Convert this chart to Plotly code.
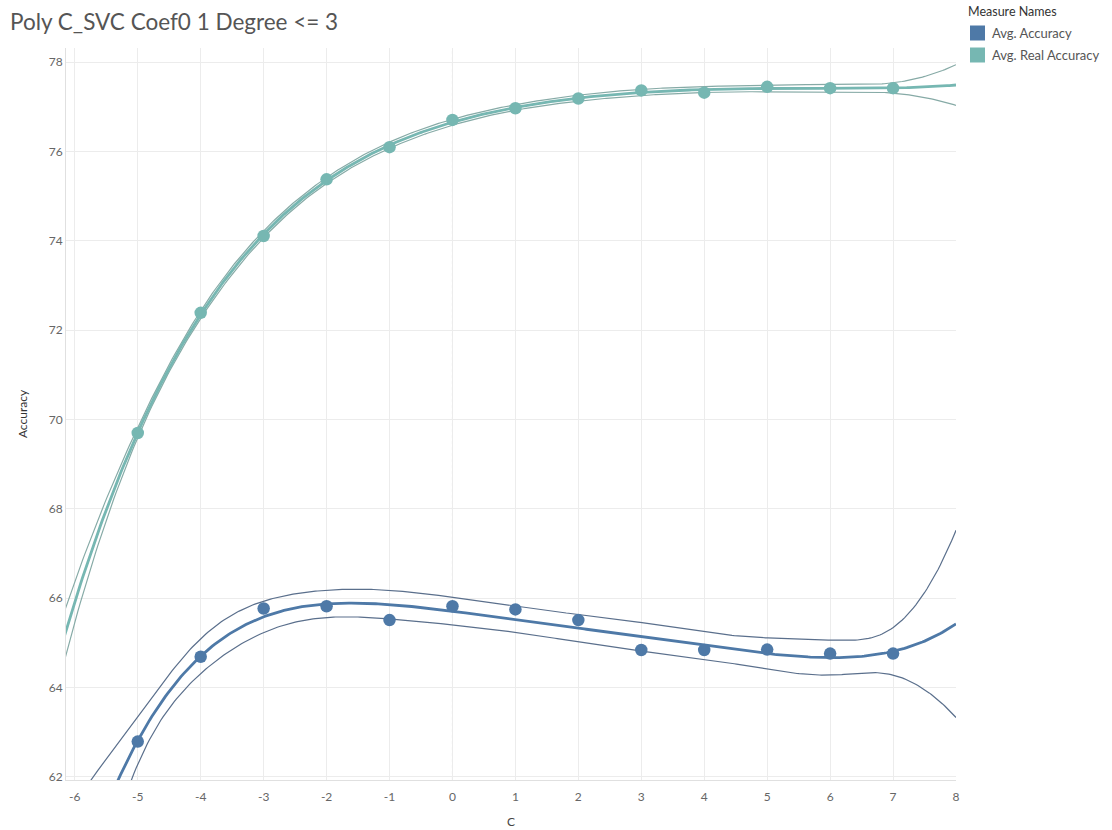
import numpy as np
import plotly.graph_objects as go

# ---- data ----
c_values = [-5, -4, -3, -2, -1, 0, 1, 2, 3, 4, 5, 6, 7]
avg_accuracy = [62.79, 64.69, 65.77, 65.82, 65.51, 65.82, 65.75, 65.51, 64.84, 64.84, 64.85, 64.76, 64.76]
avg_real_accuracy = [69.70, 72.39, 74.11, 75.38, 76.10, 76.71, 76.97, 77.19, 77.37, 77.32, 77.45, 77.42, 77.42]
x_ticks = list(range(-6, 9))
y_ticks = list(range(62, 79, 2))
series_names = ["Avg. Accuracy", "Avg. Real Accuracy"]

# ---- styling ----
COL_ACC = "#4e79a7"
COL_REAL = "#76b7b2"
BAND_ACC = "#5a6f8c"
BAND_REAL = "#86aaa6"
FONT = "Lato"
T95 = {1: 12.706, 2: 4.303, 3: 3.182, 4: 2.776, 5: 2.571, 6: 2.447, 7: 2.365,
       8: 2.306, 9: 2.262, 10: 2.228, 11: 2.201, 12: 2.179}

# plot-area geometry (pixels)
W, H = 1112, 830
ML, MR, MT, MB = 66, 156, 48, 50
PW, PH = W - ML - MR, H - MT - MB


def px_x(px):
    return (px - ML) / PW


def px_y(py):
    return (H - MB - py) / PH


def trend(x, y, deg, xs):
    x = np.asarray(x, float)
    y = np.asarray(y, float)
    X = np.vander(x, deg + 1)
    beta, *_ = np.linalg.lstsq(X, y, rcond=None)
    resid = y - X @ beta
    df = len(x) - (deg + 1)
    s2 = resid @ resid / df
    inv = np.linalg.inv(X.T @ X)
    Xs = np.vander(xs, deg + 1)
    yhat = Xs @ beta
    se = np.sqrt(s2 * np.einsum("ij,jk,ik->i", Xs, inv, Xs))
    t = T95[df]
    return yhat, yhat - t * se, yhat + t * se


xs = np.linspace(-6.2, 8.0, 400)
fig = go.Figure()

for name, vals, col, bcol, deg in [
    (series_names[1], avg_real_accuracy, COL_REAL, BAND_REAL, 5),
    (series_names[0], avg_accuracy, COL_ACC, BAND_ACC, 5),
]:
    yhat, lo, hi = trend(c_values, vals, deg, xs)
    for band in (lo, hi):
        fig.add_trace(go.Scatter(x=xs, y=band, mode="lines", line=dict(color=bcol, width=1.2),
                                 showlegend=False, hoverinfo="skip"))
    fig.add_trace(go.Scatter(x=xs, y=yhat, mode="lines", line=dict(color=col, width=2.8),
                             showlegend=False, hoverinfo="skip"))

for name, vals, col in [
    (series_names[0], avg_accuracy, COL_ACC),
    (series_names[1], avg_real_accuracy, COL_REAL),
]:
    fig.add_trace(go.Scatter(x=c_values, y=vals, mode="markers", name=name,
                             marker=dict(color=col, size=12.5, line=dict(width=0)),
                             showlegend=False))

# ---- manual legend (Tableau style) ----
annotations = [dict(text="Measure Names", xref="paper", yref="paper", x=px_x(966), y=px_y(11),
                    xanchor="left", yanchor="middle", showarrow=False,
                    font=dict(family=FONT, size=12.5, color="#333333"))]
shapes = []
for i, (name, col) in enumerate([(series_names[0], COL_ACC), (series_names[1], COL_REAL)]):
    cy = 33 + 22 * i
    shapes.append(dict(type="rect", xref="paper", yref="paper",
                       x0=px_x(970), x1=px_x(985), y0=px_y(cy + 7.5), y1=px_y(cy - 7.5),
                       fillcolor=col, line=dict(width=0)))
    annotations.append(dict(text=name, xref="paper", yref="paper", x=px_x(990), y=px_y(cy),
                            xanchor="left", yanchor="middle", showarrow=False,
                            font=dict(family=FONT, size=13, color="#555555")))

shapes.append(dict(type="line", xref="x", yref="paper", x0=0, x1=0, y0=0, y1=1,
                   line=dict(color="#b5b5b5", width=1, dash="dot"), layer="below"))

fig.update_layout(
    width=W, height=H,
    margin=dict(l=ML, r=MR, t=MT, b=MB, autoexpand=False),
    paper_bgcolor="white", plot_bgcolor="white",
    font=dict(family=FONT, color="#666666", size=12),
    title=dict(text="Poly C_SVC Coef0 1 Degree <= 3", x=0.009, xanchor="left",
               y=0.973, yanchor="middle", font=dict(family=FONT, size=22.5, color="#555555")),
    showlegend=False,
    hovermode=False,
    annotations=annotations,
    shapes=shapes,
)
fig.update_xaxes(range=[-6.14, 8.0], tickvals=x_ticks, ticktext=[str(v) for v in x_ticks],
                 showgrid=True, gridcolor="#ececec", gridwidth=1, zeroline=False,
                 showline=True, linecolor="#e0e0e0", ticks="", ticklen=0,
                 ticklabelstandoff=6,
                 tickfont=dict(size=12, color="#666666"),
                 title=dict(text="C", font=dict(size=12, color="#444444"), standoff=14))
fig.update_yaxes(range=[61.93, 78.32], tickvals=y_ticks, ticktext=[str(v) for v in y_ticks],
                 showgrid=True, gridcolor="#ececec", gridwidth=1, zeroline=False,
                 showline=True, linecolor="#e0e0e0", ticks="", ticklen=0,
                 tickfont=dict(size=12, color="#666666"),
                 title=dict(text="Accuracy", font=dict(size=12, color="#333333"), standoff=18))

fig.write_html("out.html")
